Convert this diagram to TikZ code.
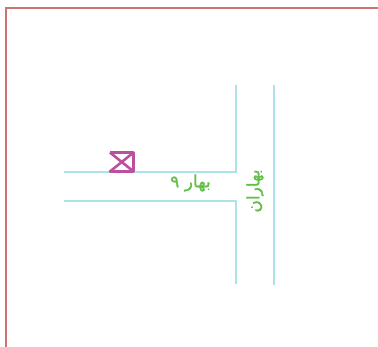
\documentclass[tikz,border=0pt]{standalone}
\usepackage{fontspec}
\TeXXeTstate=1
\newfontfamily\arabicfont[Script=Arabic,FakeBold=1.2]{DejaVu Sans}
\definecolor{frameC}{HTML}{CE7470}
\definecolor{roadC}{HTML}{ABE3E9}
\definecolor{markC}{HTML}{BC4F9E}
\definecolor{labelC}{HTML}{62BE46}
\tikzset{
  framepen/.style={draw=frameC,line width=1.4pt},
  roadpen/.style={draw=roadC,line width=1.3pt},
  markpen/.style={draw=markC,line width=2.6pt},
  roadlabel/.style={text=labelC,font=\arabicfont\fontsize{17}{17}\selectfont,inner sep=0pt}
}
\begin{document}
\begin{tikzpicture}[x=1pt,y=-1pt]
\useasboundingbox (0,0) rectangle (378,347);
\draw[framepen] (378,8) -- (6,8) -- (6,347);
\draw[roadpen] (64,172) -- (236,172) -- (236,85);
\draw[roadpen] (64,201) -- (236,201) -- (236,284);
\draw[roadpen] (274,85) -- (274,285);
\draw[markpen,line join=round] (110,152.5) -- (133.5,152.5) -- (133.5,171.5) -- (110,171.5) -- (133.5,152.5);
\draw[markpen] (110,152.5) -- (133.5,171.5);
\node[roadlabel] (nine) at (190.5,183) {\beginR بهار ۹\endR};
\node[roadlabel,rotate=90] (bahar) at (255,191) {\beginR بهاران\endR};
\end{tikzpicture}
\end{document}
